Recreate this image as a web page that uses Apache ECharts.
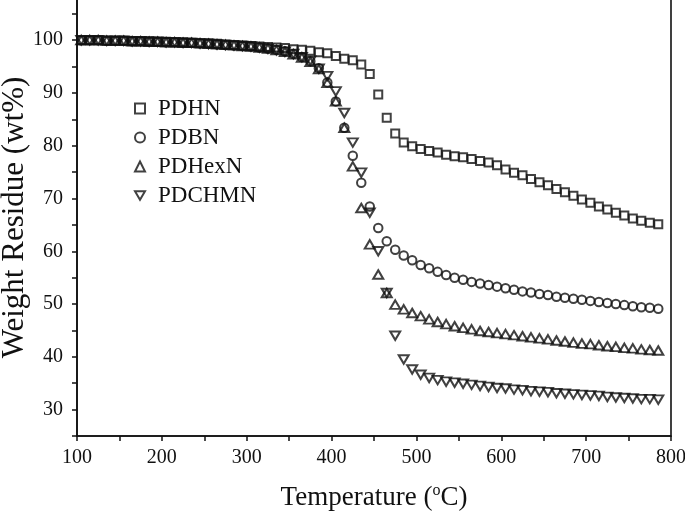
<!DOCTYPE html>
<html>
<head>
<meta charset="utf-8">
<script src="https://cdn.jsdelivr.net/npm/echarts@6/dist/echarts.min.js"></script>
<style>html,body{margin:0;padding:0;background:#fff;}#c{width:685px;height:519px;}</style>
</head>
<body>
<div id="c"></div>
<script>
const temperature = [105,115,125,135,145,155,165,175,185,195,205,215,225,235,245,255,265,275,285,295,
  305,315,325,335,345,355,365,375,385,395,405,415,425,435,445,455,465,475,485,
  495,505,515,525,535,545,555,565,575,585,595,605,615,625,635,645,655,665,675,685,695,705,715,725,735,745,755,765,775,785];

const PDHN = [100.0,100.0,100.0,99.9,99.9,99.9,99.8,99.8,99.8,99.7,99.7,99.6,99.6,99.5,99.4,99.4,99.3,99.2,99.1,99.0,
  98.9,98.8,98.7,98.6,98.5,98.3,98.2,
  98.0,97.7,97.5,97.0,96.5,96.2,95.4,93.6,89.7,85.3,82.3,80.6,
  79.9,79.4,79.0,78.7,78.3,78.0,77.8,77.5,77.1,76.8,76.3,75.5,74.9,74.4,73.7,73.1,72.5,71.8,71.2,70.5,69.8,69.2,68.5,67.9,67.3,66.8,66.2,65.8,65.4,65.1];

const PDBN = [100.0,100.0,100.0,99.9,99.9,99.9,99.8,99.8,99.7,99.7,99.6,99.6,99.5,99.5,99.4,99.3,99.2,99.1,99.0,98.9,
  98.8,98.6,98.4,98.2,97.9,97.4,96.8,
  96.0,94.7,92.0,88.4,83.4,78.1,73.0,68.5,64.4,61.9,60.3,59.2,
  58.3,57.4,56.8,56.1,55.5,55.0,54.6,54.2,53.9,53.6,53.3,53.0,52.7,52.4,52.2,51.9,51.7,51.4,51.2,51.0,50.8,50.6,50.4,50.2,50.0,49.8,49.6,49.4,49.3,49.1];

const PDHexN = [100.0,100.0,100.0,99.9,99.9,99.9,99.8,99.8,99.7,99.7,99.6,99.6,99.5,99.5,99.4,99.3,99.2,99.1,99.0,98.9,
  98.8,98.6,98.4,98.1,97.8,97.3,96.7,
  95.9,94.5,91.9,88.4,83.4,76.1,68.2,61.3,55.6,52.1,49.9,49.0,
  48.3,47.7,47.1,46.6,46.2,45.8,45.5,45.2,44.9,44.7,44.5,44.3,44.1,43.9,43.7,43.5,43.3,43.1,42.9,42.7,42.5,42.4,42.2,42.0,41.9,41.7,41.6,41.4,41.3,41.2];

const PDCHMN = [100.0,100.0,100.0,99.9,99.9,99.9,99.8,99.8,99.7,99.7,99.6,99.6,99.5,99.5,99.4,99.3,99.2,99.1,99.0,98.9,
  98.8,98.6,98.4,98.1,97.8,97.4,96.8,
  96.1,94.6,93.2,90.3,86.2,80.6,74.9,67.3,60.0,52.1,44.0,39.5,
  37.6,36.6,36.0,35.6,35.3,35.1,34.9,34.7,34.5,34.3,34.1,34.0,33.8,33.7,33.5,33.4,33.3,33.1,33.0,32.9,32.8,32.7,32.6,32.4,32.3,32.2,32.1,32.0,32.0,31.9];

const seriesNames = ['PDHN','PDBN','PDHexN','PDCHMN'];
const seriesValues = [PDHN, PDBN, PDHexN, PDCHMN];
const xTicks = [100,200,300,400,500,600,700,800];
const yTicks = [30,40,50,60,70,80,90,100];

const font = 'Liberation Serif';
const ink = '#111';
const symbols = ['rect','circle','triangle','path://M0,0 L10,0 L5,8.66 Z'];
const sizes = [8, 8.5, [10,8.5], [10,8.5]];

const chart = echarts.init(document.getElementById('c'), null, {renderer:'canvas'});
chart.setOption({
  animation: false,
  backgroundColor: '#fff',
  grid: {left: 77, right: 14, top: -1, bottom: 83, outerBoundsMode: 'none', containLabel: false,
    show: true, borderColor: ink, borderWidth: 1.6, backgroundColor: 'transparent'},
  legend: {
    orient: 'vertical', left: 129, top: 92, itemGap: 6, itemWidth: 10, itemHeight: 10,
    data: seriesNames,
    textStyle: {fontFamily: font, fontSize: 23, color: ink, lineHeight: 23, padding: [0,0,0,8]}
  },
  xAxis: {
    type: 'value', min: 100, max: 800, interval: 50,
    name: 'Temperature ({sup|o}C)', nameLocation: 'middle', nameGap: 47, nameMoveOverlap: false,
    nameTextStyle: {fontFamily: font, fontSize: 27, color: ink,
      rich: {sup: {fontFamily: font, fontSize: 16, color: ink, verticalAlign: 'bottom', padding: [0,0,13,0]}}},
    axisLine: {show: true, lineStyle: {color: ink, width: 1.6}},
    axisTick: {show: true, inside: false, length: 5, lineStyle: {color: ink, width: 1.5}},
    axisLabel: {fontFamily: font, fontSize: 20, color: ink, margin: 12,
      formatter: v => xTicks.indexOf(v) >= 0 ? String(v) : ''},
    splitLine: {show: false}
  },
  yAxis: {
    type: 'value', min: 25, max: 107.8, interval: 5,
    name: 'Weight Residue (wt%)', nameLocation: 'middle', nameGap: 47, nameMoveOverlap: false,
    nameTextStyle: {fontFamily: font, fontSize: 31, color: ink},
    axisLine: {show: true, lineStyle: {color: ink, width: 1.6}},
    axisTick: {show: true, inside: false, length: 5, lineStyle: {color: ink, width: 1.5}},
    axisLabel: {fontFamily: font, fontSize: 20, color: ink, margin: 14, showMaxLabel: false,
      formatter: v => yTicks.indexOf(v) >= 0 ? String(v) : ''},
    splitLine: {show: false}
  },
  series: seriesNames.map((n, i) => ({
    name: n, type: 'scatter',
    symbol: symbols[i], symbolSize: sizes[i],
    itemStyle: {color: 'rgba(255,255,255,0)', borderColor: ink, borderWidth: 2},
    data: temperature.map((t, k) => [t, seriesValues[i][k]])
  }))
});
</script>
</body>
</html>
